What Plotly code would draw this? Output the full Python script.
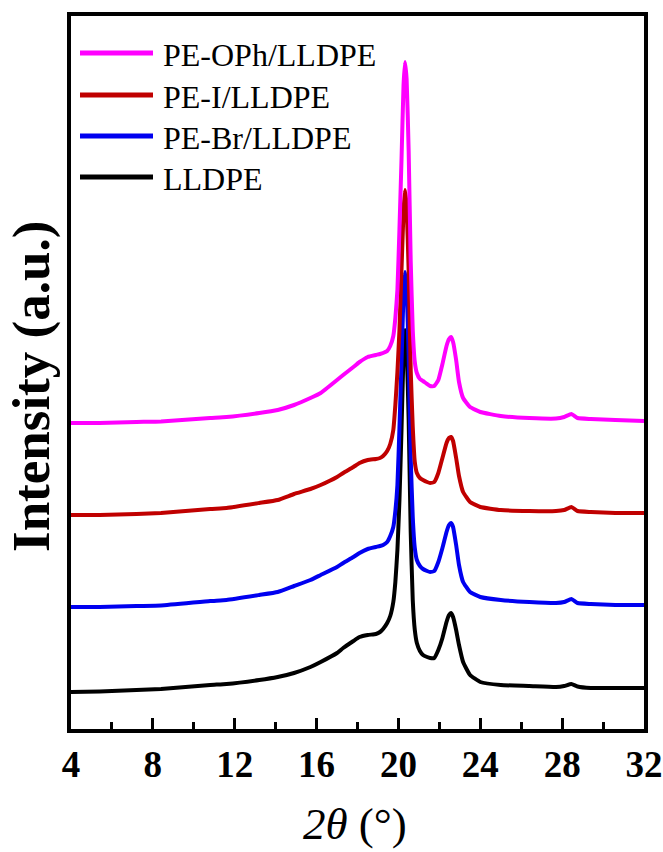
import plotly.graph_objects as go

# 2theta grid (degrees)
two_theta = [4.0, 5.4, 7.2, 8.4, 10.8, 11.6, 13.2, 14.1, 14.9, 15.7, 16.2, 17.0, 17.3, 17.8,
             18.1, 18.5, 18.9, 19.1, 19.25, 19.45, 19.6, 19.75, 19.85, 19.95, 20.05, 20.15,
             20.25, 20.32, 20.4, 20.5, 20.6, 20.7, 20.8, 20.9, 21.05, 21.2, 21.4, 21.55, 21.75,
             21.95, 22.15, 22.35, 22.47, 22.57, 22.67, 22.82, 22.96, 23.16, 23.5, 24.0, 25.0,
             26.4, 27.7, 28.1, 28.45, 28.75, 29.4, 30.6, 32.0]

# read positions (px from top) of each curve, converted below to intensity (a.u., stacked)
lldpe_px = [692, 691.5, 690, 689, 685, 684, 680, 677, 673, 667, 662, 653, 648, 641,
            637, 635, 634, 632, 629, 623, 616, 602, 582, 550, 500, 430,
            353, 330, 347, 420, 532, 600, 630, 643, 651, 655, 657, 658, 658,
            650, 638, 622, 615, 613, 617, 630, 645, 662, 675, 682, 685,
            686, 687, 686, 684, 686.5, 688, 688, 688]
pebr_px = [607, 607, 606, 605.5, 601, 600, 595, 592, 586, 580, 575, 567, 563, 557,
           553, 549, 547, 546, 545, 542, 536, 527, 511, 485, 428, 363,
           293, 272, 288, 355, 458, 517, 548, 560, 566, 569, 571, 572, 571,
           562, 548, 532, 525, 523, 527, 545, 565, 582, 592, 597, 600,
           602, 603, 602, 599, 603, 604, 605, 605]
pei_px = [515, 515, 514, 513, 509, 508, 503, 500, 494, 489, 485, 477, 473, 467,
          463, 460, 459, 458, 456, 451, 444, 430, 405, 372, 330, 270,
          211, 190, 206, 271, 370, 427, 462, 473, 478, 480, 482, 483, 482,
          473, 458, 443, 438, 437, 441, 458, 476, 492, 502, 507, 510,
          511, 511, 510, 507, 511, 512, 513, 513]
peoph_px = [423, 423, 422, 421.5, 418, 417, 413, 410, 405, 398, 393, 380, 375, 367,
            362, 357, 355, 354, 353, 351, 346, 336, 318, 290, 229, 160,
            85, 62, 79, 151, 261, 330, 362, 373, 379, 381, 384, 386, 386,
            380, 364, 346, 339, 337, 342, 360, 382, 398, 407, 412, 416,
            418, 418.5, 417, 414, 418, 419, 420, 421]

def to_int(vals):
    return [729 - v for v in vals]

series_names = ["LLDPE", "PE-Br/LLDPE", "PE-I/LLDPE", "PE-OPh/LLDPE"]
series_vals = [to_int(lldpe_px), to_int(pebr_px), to_int(pei_px), to_int(peoph_px)]
series_colors = ["#000000", "#0000F0", "#C00000", "#FF00FF"]

x_ticks = [4, 8, 12, 16, 20, 24, 28, 32]

FONT = "Liberation Serif, Times New Roman, serif"

fig = go.Figure()
for name, vals, col in zip(series_names, series_vals, series_colors):
    fig.add_trace(go.Scatter(x=two_theta, y=vals, mode="lines", name=name,
                             line=dict(color=col, width=4, shape="spline", smoothing=0.4),
                             showlegend=False))

# manual legend (top-left), order as in reference
leg_order = [3, 2, 1, 0]
leg_y = [53, 95, 136, 177]
W, H = 663, 852
L, R, T, B = 71, 644, 16, 729
def px2paper_x(px):
    return (px - L) / (R - L)
def px2paper_y(py):
    return (B - py) / (B - T)

for idx, py in zip(leg_order, leg_y):
    fig.add_shape(type="line", xref="paper", yref="paper",
                  x0=px2paper_x(80), x1=px2paper_x(153), y0=px2paper_y(py), y1=px2paper_y(py),
                  line=dict(color=series_colors[idx], width=5))
    fig.add_annotation(xref="paper", yref="paper", x=px2paper_x(161), y=px2paper_y(py + 2),
                       text=series_names[idx], showarrow=False, xanchor="left", yanchor="middle",
                       font=dict(family=FONT, size=32, color="black"))

# axis titles
fig.add_annotation(xref="paper", yref="paper", x=px2paper_x(355), y=px2paper_y(824),
                   text="<i>2θ</i> (°)", showarrow=False, xanchor="center", yanchor="middle",
                   font=dict(family=FONT, size=45, color="black"))
fig.add_annotation(xref="paper", yref="paper", x=px2paper_x(31), y=px2paper_y(387),
                   text="<b>Intensity (a.u.)</b>", showarrow=False, textangle=-90,
                   xanchor="center", yanchor="middle",
                   font=dict(family=FONT, size=53, color="black"))

fig.update_layout(
    width=W, height=H,
    margin=dict(l=L, r=W - R, t=T, b=H - B, autoexpand=False),
    plot_bgcolor="white", paper_bgcolor="white",
)
fig.update_xaxes(range=[4, 32], tickvals=x_ticks, ticktext=[str(v) for v in x_ticks],
                 ticks="inside", ticklen=11, tickwidth=3, tickcolor="black",
                 minor=dict(dtick=2, tick0=4, ticks="inside", ticklen=7, tickwidth=3, tickcolor="black"),
                 showline=True, linewidth=4, linecolor="black", mirror=True,
                 showgrid=False, zeroline=False, automargin=False,
                 tickfont=dict(family=FONT, size=37, color="black", weight="bold"))
fig.update_yaxes(range=[0, 713], showticklabels=False, ticks="",
                 showline=True, linewidth=4, linecolor="black", mirror=True,
                 showgrid=False, zeroline=False, automargin=False)

fig.write_html("out.html")
